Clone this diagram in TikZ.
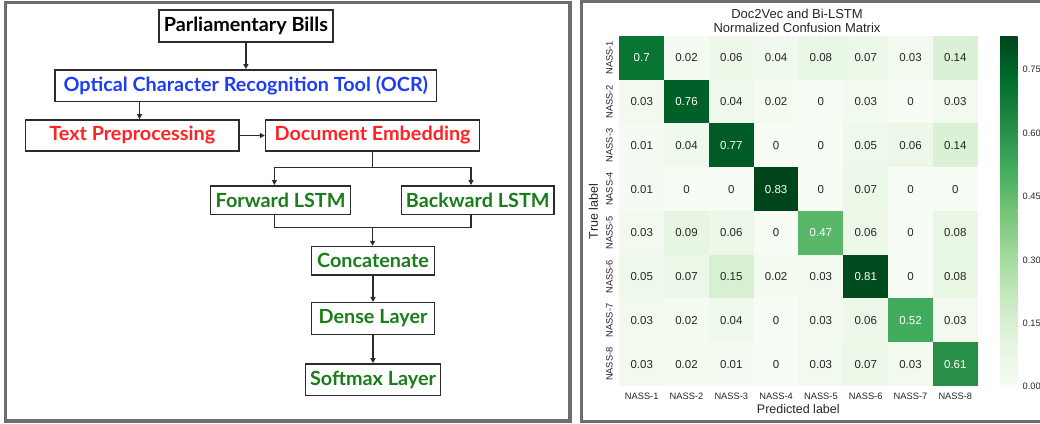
\documentclass[tikz,border=0pt]{standalone}
\usepackage{fontspec}
\setmainfont{Liberation Sans}
\newfontfamily\flowfont{Lato}[FakeStretch=1.015]
\usetikzlibrary{arrows.meta,calc}
\definecolor{framegray}{HTML}{6E6E6E}
\definecolor{boxline}{HTML}{2B2B2B}
\definecolor{ocrblue}{RGB}{30,60,245}
\definecolor{prered}{RGB}{255,35,35}
\definecolor{lstmgreen}{RGB}{25,125,25}
\definecolor{txtdark}{HTML}{262626}
\definecolor{G0}{HTML}{F7FCF5}
\definecolor{G1}{HTML}{E5F5E0}
\definecolor{G2}{HTML}{C7E9C0}
\definecolor{G3}{HTML}{A1D99B}
\definecolor{G4}{HTML}{74C476}
\definecolor{G5}{HTML}{41AB5D}
\definecolor{G6}{HTML}{238B45}
\definecolor{G7}{HTML}{006D2C}
\definecolor{G8}{HTML}{00441B}
\tikzset{
  panelframe/.style={draw=framegray, line width=3.3pt},
  fbox/.style={draw=boxline, line width=1.5pt, inner sep=0pt, font=\flowfont\bfseries\fontsize{19.5}{19.5}\selectfont},
  conn/.style={draw=boxline, line width=1.4pt},
  arr/.style={conn, -{Triangle[length=5pt,width=5pt]}},
  hmtext/.style={font=\fontsize{11.5}{12}\selectfont, inner sep=0pt},
  ticktext/.style={font=\fontsize{9.3}{10}\selectfont, text=txtdark, inner sep=0pt},
  axtext/.style={font=\fontsize{12.5}{13}\selectfont, text=txtdark, inner sep=0pt},
}
\begin{document}
\begin{tikzpicture}[x=1pt,y=-1pt]
\useasboundingbox (0,0) rectangle (1040,423);
\clip (0,0) rectangle (1040,423);
\fill[white] (0,0) rectangle (1040,423);
% ---------------- left panel ----------------
\draw[panelframe] (5.7,2.2) rectangle (570,421);
\node[fbox, minimum width=174pt, minimum height=31.7pt, text=black] (pb) at (245.9,25.9) {Parliamentary Bills};
\node[fbox, minimum width=381.6pt, minimum height=31.5pt, text=ocrblue] (ocr) at (245.8,85.5) {Optical Character Recognition Tool (OCR)};
\node[fbox, minimum width=213.8pt, minimum height=31.2pt, text=prered] (tp) at (132.3,135.5) {Text Preprocessing};
\node[fbox, minimum width=214.1pt, minimum height=31.2pt, text=prered] (de) at (372.6,135.5) {Document Embedding};
\node[fbox, minimum width=140.1pt, minimum height=28.5pt, text=lstmgreen] (fl) at (280.6,200) {Forward LSTM};
\node[fbox, minimum width=152.6pt, minimum height=28.5pt, text=lstmgreen] (bl) at (477.7,200) {Backward LSTM};
\node[fbox, minimum width=122.8pt, minimum height=28.5pt, text=lstmgreen] (cc) at (373,260.8) {Concatenate};
\node[fbox, minimum width=122.8pt, minimum height=31.6pt, text=lstmgreen] (dl) at (373,318.5) {Dense Layer};
\node[fbox, minimum width=135.3pt, minimum height=31.7pt, text=lstmgreen] (sl) at (373,379.8) {Softmax Layer};
\coordinate (split) at (372.6,167.3);
\coordinate (join) at (372.6,227.7);
\draw[arr] (pb.south) -- (pb.south |- ocr.north);
\draw[arr] ([xshift=7.2pt]tp.north |- ocr.south) -- ([xshift=7.2pt]tp.north);
\draw[arr] (tp.east) -- (de.west);
\draw[conn] (de.south) -- (split);
\draw[arr] (split) -| ([xshift=-6.2pt]fl.north);
\draw[arr] (split) -| ([xshift=-6.7pt]bl.north);
\draw[conn] ([xshift=-6.2pt]fl.south) |- (join);
\draw[conn] ([xshift=-6.7pt]bl.south) |- (join);
\draw[arr] (join) -- (join |- cc.north);
\draw[arr] (cc.south) -- (cc.south |- dl.north);
\draw[arr] (dl.south) -- (dl.south |- sl.north);
% ---------------- right panel ----------------
\draw[panelframe] (1050,1.3) -- (581.7,1.3) -- (581.7,421.7) -- (1050,421.7);
\node[axtext, font=\fontsize{13}{14}\selectfont, align=center] (title) at (797,20.8) {Doc2Vec and Bi-LSTM\\Normalized Confusion Matrix};
\foreach \row [count=\r] in {
  {0.7,0.02,0.06,0.04,0.08,0.07,0.03,0.14},
  {0.03,0.76,0.04,0.02,0,0.03,0,0.03},
  {0.01,0.04,0.77,0,0,0.05,0.06,0.14},
  {0.01,0,0,0.83,0,0.07,0,0},
  {0.03,0.09,0.06,0,0.47,0.06,0,0.08},
  {0.05,0.07,0.15,0.02,0.03,0.81,0,0.08},
  {0.03,0.02,0.04,0,0.03,0.06,0.52,0.03},
  {0.03,0.02,0.01,0,0.03,0.07,0.03,0.61}} {
  \foreach \v [count=\c] in \row {
    \pgfmathsetmacro\hmT{8*\v/0.83}
    \pgfmathtruncatemacro\hmI{min(floor(\hmT),7)}
    \pgfmathtruncatemacro\hmJ{\hmI+1}
    \pgfmathsetmacro\hmP{(\hmT-\hmI)*100}
    \colorlet{hmfill}{G\hmJ!\hmP!G\hmI}
    \pgfmathsetmacro\cx{619.3+(\c-0.5)*44.8}
    \pgfmathsetmacro\cy{36+(\r-0.5)*43.75}
    \fill[hmfill] ({\cx-22.6},{\cy-22.1}) rectangle ({\cx+22.6},{\cy+22.1});
    \ifdim\v pt>0.4pt \colorlet{hmtxt}{white}\else\colorlet{hmtxt}{txtdark}\fi
    \node[hmtext, text=hmtxt] (cell-\r-\c) at (\cx,\cy) {\v};
  }
}
\foreach \k in {1,...,8} {
  \node[ticktext] (xt-\k) at ({619.3+(\k-0.5)*44.8},396.6) {NASS-\k};
  \node[ticktext, rotate=90] (yt-\k) at (609.5,{36+(\k-0.5)*43.75}) {NASS-\k};
}
\node[axtext] (xlab) at (798.3,409.3) {Predicted label};
\node[axtext, rotate=90] (ylab) at (593.5,211.5) {True label};
% colorbar
\foreach \i [evaluate=\i as \j using int(\i+1)] in {0,...,7} {
  \shade[bottom color=G\i, top color=G\j] (1000,{386.5-\i*43.81-0.3}) rectangle (1017.7,{386.5-\j*43.81});
}
\foreach \t/\lab in {0/0.00,0.15/0.15,0.30/0.30,0.45/0.45,0.60/0.60,0.75/0.75} {
  \node[ticktext, anchor=west] (cb-\lab) at (1022.5,{386.5-\t*422.3}) {\lab};
}
\end{tikzpicture}
\end{document}
